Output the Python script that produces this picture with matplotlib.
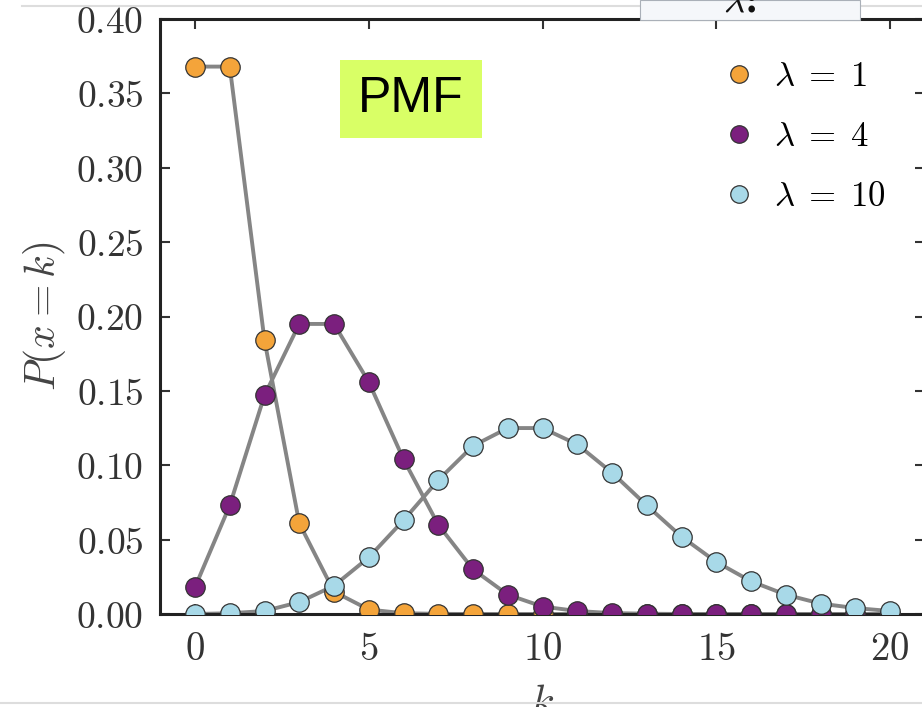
import matplotlib
matplotlib.use("Agg")
import matplotlib.pyplot as plt
from matplotlib.patches import Rectangle
from matplotlib.lines import Line2D
from matplotlib.ticker import FuncFormatter

plt.rcParams['mathtext.fontset'] = 'cm'
plt.rcParams['font.family'] = ['DejaVu Serif']

k = list(range(21))
pmf_l1 = [0.368, 0.368, 0.184, 0.061, 0.015, 0.003, 0.0005, 0.0001, 0.0, 0.0, 0.0,
          0.0, 0.0, 0.0, 0.0, 0.0, 0.0, 0.0, 0.0, 0.0, 0.0]
pmf_l4 = [0.018, 0.073, 0.147, 0.195, 0.195, 0.156, 0.104, 0.060, 0.030, 0.013, 0.005,
          0.002, 0.0006, 0.0002, 0.0, 0.0, 0.0, 0.0, 0.0, 0.0, 0.0]
pmf_l10 = [0.0, 0.0005, 0.002, 0.008, 0.019, 0.038, 0.063, 0.090, 0.113, 0.125, 0.125,
           0.114, 0.095, 0.073, 0.052, 0.035, 0.022, 0.013, 0.007, 0.004, 0.002]
labels = [r'$\lambda\;=\;1$', r'$\lambda\;=\;4$', r'$\lambda\;=\;10$']
colors = ['#F4A43A', '#7B1F7E', '#A8D9E8']

W, H = 922, 707
fig = plt.figure(figsize=(W / 100, H / 100), dpi=100)
ax = fig.add_axes([160.25 / W, 1 - 614 / H, (924.75 - 160.25) / W, 595 / H])

for y, c in zip([pmf_l1, pmf_l4, pmf_l10], colors):
    ax.plot(k, y, '-', color='#858585', lw=2.8, zorder=2)
for y, c, lab in zip([pmf_l1, pmf_l4, pmf_l10], colors, labels):
    ax.plot(k, y, 'o', color=c, ms=14, mec='#333333', mew=0.9, zorder=3, label=lab)

ax.set_xlim(-1, 21)
ax.set_ylim(0, 0.40)
ax.set_xticks([0, 5, 10, 15, 20])
ax.set_yticks([0.0, 0.05, 0.10, 0.15, 0.20, 0.25, 0.30, 0.35, 0.40])
ax.xaxis.set_major_formatter(FuncFormatter(lambda v, p: r'$%d$' % v))
ax.yaxis.set_major_formatter(FuncFormatter(lambda v, p: r'$%.2f$' % v))
ax.tick_params(direction='in', top=True, right=True, length=7, width=1.5,
               labelsize=27, colors='#333333', pad=12)
ax.tick_params(axis='x', labelsize=28)
for s in ax.spines.values():
    s.set_linewidth(2.2)
    s.set_color('#222222')
ax.set_ylabel(r'$P(x=k)$', fontsize=30, color='#444444', labelpad=6)
ax.set_xlabel(r'$k$', fontsize=30, color='#444444', labelpad=10)

leg = ax.legend(loc='upper right', bbox_to_anchor=(0.99, 0.985), frameon=False,
                fontsize=25, handletextpad=0.5, labelspacing=0.75, markerscale=0.9,
                handlelength=1.0)

# PMF tag
fig.patches.append(Rectangle((340 / W, 1 - 138 / H), 142 / W, 78 / H,
                             transform=fig.transFigure, facecolor='#D9FF66',
                             edgecolor='none', zorder=5))
fig.text(411 / W, 1 - 99 / H, 'PMF', fontsize=36, family='Liberation Sans',
         ha='center', va='center', zorder=6)

# screenshot artifacts at top/bottom
fig.add_artist(Line2D([22 / W, 1], [1 - 6 / H, 1 - 6 / H], transform=fig.transFigure,
                      color='#dddddd', lw=1.5))
fig.add_artist(Line2D([0, 1], [1 - 703 / H, 1 - 703 / H], transform=fig.transFigure,
                      color='#dddddd', lw=1.5))
fig.patches.append(Rectangle((640 / W, 1 - 20 / H), 220 / W, 20 / H,
                             transform=fig.transFigure, facecolor='#F5F7FA',
                             edgecolor='#AAB0B8', lw=0.8, zorder=5))
fig.text(740 / W, 1 - 2 / H, r'$\lambda$:', fontsize=26, fontweight='bold',
         ha='center', va='center', zorder=6, color='#111111')

fig.savefig('out.png', dpi=100)
